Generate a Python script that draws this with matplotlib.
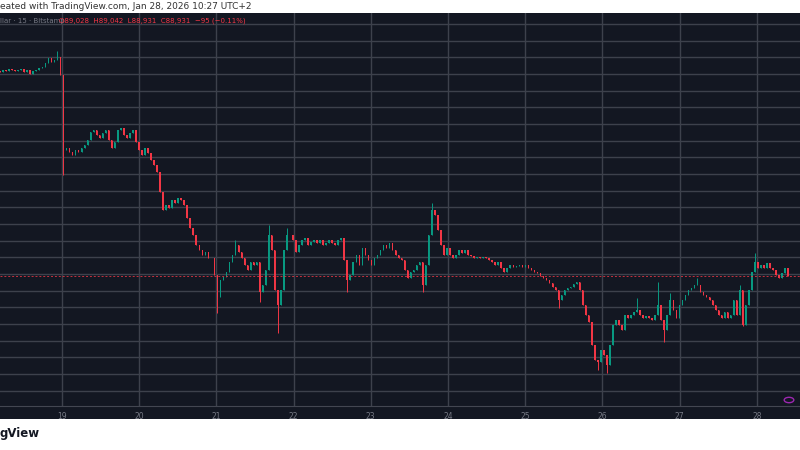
import numpy as np
import matplotlib
matplotlib.use("Agg")
import matplotlib.pyplot as plt

# hourly-ish closes (BTC/USD, Bitstamp), Jan 18 ~05:00 -> Jan 28 ~10:00
closes = [95060,95120,95090,95150,95120,95090,95120,95150,95060,95120,95000,95090,95120,95180,95210,95330,95480,95360,95420,95510,
94970,92720,92780,92660,92570,92720,92660,92780,92870,93020,93260,93320,93170,93080,93230,93320,93020,92780,92960,93320,
93380,93170,93080,93230,93320,92960,92720,92570,92780,92630,92420,92270,92060,91460,90920,91070,90980,91220,91130,91280,
91220,91070,90680,90380,90170,89870,89720,89570,89660,89480,89480,88970,88310,88820,88910,89060,89360,89570,89870,89660,
89480,89270,89120,89360,89270,89360,88460,88670,89120,90170,89720,88520,88070,88520,89720,90170,90170,90020,89660,89870,
90020,90080,89870,89960,90020,89930,90020,89870,89930,90020,89930,89870,90020,90080,89420,88820,88970,89360,89570,89270,
89780,89570,89420,89270,89480,89570,89720,89870,89780,89930,89720,89570,89480,89420,89120,88880,89060,89120,89270,89360,
88670,89270,90170,90920,90770,90320,89870,89570,89780,89570,89480,89570,89720,89630,89720,89570,89540,89480,89510,89480,
89510,89480,89420,89360,89270,89360,89180,89060,89180,89270,89210,89240,89270,89210,89270,89180,89120,89060,89030,88940,
88880,88820,88730,88610,88520,88220,88370,88520,88580,88610,88700,88760,88520,88070,87770,87560,86870,86420,86360,86720,
86570,86270,86870,87470,87620,87470,87320,87770,87680,87770,87860,87920,87770,87680,87740,87680,87620,87770,88070,87620,
87320,87770,88220,87920,87680,88070,88220,88370,88520,88580,88670,88670,88460,88370,88310,88220,88070,87920,87770,87680,
87860,87680,87770,88220,87770,88520,87470,88070,88520,89060,89360,89180,89270,89180,89330,89180,89120,88970,88880,89030,
89180,88931]
first_open = 95090
spike_idx = [19, 21, 72, 78, 86, 89, 92, 95, 115, 140, 143, 185, 198, 201, 211, 218, 220, 222, 231, 245, 246, 250]
spike_px = [95680, 91970, 87830, 90020, 88160, 90470, 87230, 90380, 88460, 88460, 91130, 87980, 86120, 86030, 88280, 88760, 86960, 88430, 88880, 88670, 87450, 89640]
day_ticks = [19, 20, 21, 22, 23, 24, 25, 26, 27, 28]
last_price = 88931

BG = "#131722"
UP, DN = "#089981", "#F23645"

c = np.array(closes, float)
o = np.concatenate([[first_open], c[:-1]])
hi = np.maximum(o, c)
lo = np.minimum(o, c)
for i, p in zip(spike_idx, spike_px):
    if p > hi[i]:
        hi[i] = p
    if p < lo[i]:
        lo[i] = p

d0 = 18.197
ppd = 77.2
t = np.linspace(d0, d0 + 788 / ppd, len(c))
step = t[1] - t[0]

fig = plt.figure(figsize=(8, 4.5), dpi=100, facecolor="white")
bgax = fig.add_axes([0, 31 / 450, 1, (419 - 13) / 450])
bgax.set_facecolor(BG); bgax.set_xticks([]); bgax.set_yticks([])
for s in bgax.spines.values():
    s.set_visible(False)

ax = fig.add_axes([0, 44 / 450, 1, (406 - 13) / 450])
ax.set_facecolor(BG)
ax.set_xlim(d0, d0 + 800 / ppd)
ax.set_ylim(97220 - 30 * 406, 97220 - 30 * 13)
for y in np.arange(85500, 97000, 500):
    ax.axhline(y, color="#3d414c", lw=1, zorder=0)
for d in day_ticks:
    ax.axvline(d, color="#3d414c", lw=1, zorder=0)
col = np.where(c >= o, UP, DN)
ax.vlines(t, lo, hi, colors=col, lw=0.7, zorder=2)
ax.bar(t, np.maximum(np.abs(c - o), 8), bottom=np.minimum(o, c), width=step * 0.5, color=col, zorder=3, linewidth=0)
ax.axhline(last_price, color=DN, lw=0.7, ls=(0, (2, 2)), alpha=0.8, zorder=4)
ax.set_xticks(day_ticks)
ax.set_xticklabels([str(d) for d in day_ticks])
ax.tick_params(axis="x", length=0, pad=4, labelsize=5.5, labelcolor="#787b86")
ax.set_yticks([])
for s in ax.spines.values():
    s.set_visible(False)
ax.spines["bottom"].set_visible(True)
ax.spines["bottom"].set_color("#434651")

fig.text(0.0, 1 - 6.5 / 450, "eated with TradingView.com, Jan 28, 2026 10:27 UTC+2",
         fontsize=6.5, color="#333333", va="center", ha="left")
fig.text(0.0, 1 - 21 / 450, "llar · 15 · Bitstamp", fontsize=5, color="#787b86", va="center")
fig.text(0.074, 1 - 21 / 450, "O89,028  H89,042  L88,931  C88,931  −95 (−0.11%)",
         fontsize=5, color=DN, va="center")
fig.text(0.0, 1 - 433 / 450, "gView", fontsize=8.5, fontweight="bold", color="#131722", va="center")
fig.patches.append(plt.Circle((789 / 800, 1 - 400 / 450), 0.006, transform=fig.transFigure,
                              fill=False, ec="#9c27b0", lw=1))

fig.savefig("out.png", dpi=100, facecolor="white")
